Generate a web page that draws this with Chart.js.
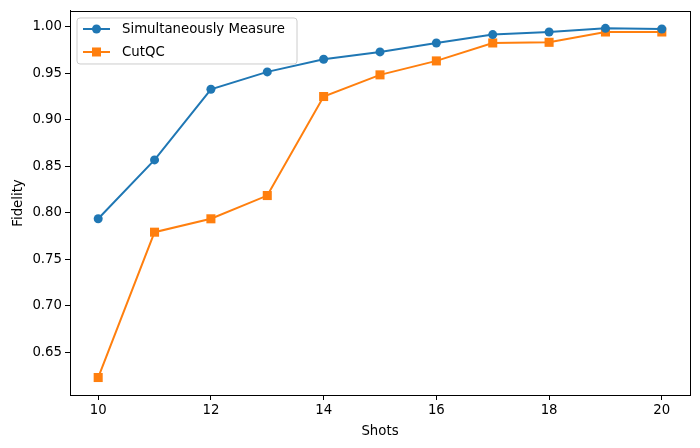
<!DOCTYPE html>
<html>
<head>
<meta charset="utf-8">
<script src="https://cdn.jsdelivr.net/npm/chart.js@4"></script>
<style>
  html, body { margin: 0; padding: 0; background: #fff; }
  #wrap { width: 700px; height: 448px; }
</style>
</head>
<body>
<div id="wrap"><canvas id="c" width="700" height="448"></canvas></div>
<script>
const shots = [10, 11, 12, 13, 14, 15, 16, 17, 18, 19, 20];
const simultaneous = [0.7937, 0.857, 0.933, 0.9517, 0.9653, 0.9732, 0.9828, 0.9918, 0.9946, 0.9985, 0.9978];
const cutqc = [0.623, 0.7793, 0.7937, 0.8187, 0.9252, 0.9485, 0.9635, 0.9828, 0.9835, 0.9946, 0.9946];
const xTicks = [10, 12, 14, 16, 18, 20];
const yTicks = [0.65, 0.70, 0.75, 0.80, 0.85, 0.90, 0.95, 1.00];
const seriesNames = ['Simultaneously Measure', 'CutQC'];

const FONT = 'DejaVu Sans';
const BLUE = '#1f77b4', ORANGE = '#ff7f0e';

const toPts = (ys) => shots.map((x, i) => ({ x: x, y: ys[i] }));

const framePlugin = {
  id: 'frame',
  afterDatasetsDraw(chart) {
    const { ctx, chartArea: a } = chart;
    ctx.save();
    ctx.strokeStyle = '#000';
    ctx.lineWidth = 1;
    ctx.strokeRect(Math.round(a.left) + 0.5, Math.round(a.top) + 0.5, Math.round(a.right - a.left), Math.round(a.bottom - a.top));
    ctx.restore();
  }
};

const legendPlugin = {
  id: 'mplLegend',
  afterDraw(chart) {
    const { ctx, chartArea: a } = chart;
    const x0 = a.left + 7, y0 = a.top + 7, w = 220, h = 46, r = 3;
    ctx.save();
    ctx.beginPath();
    ctx.moveTo(x0 + r, y0);
    ctx.arcTo(x0 + w, y0, x0 + w, y0 + h, r);
    ctx.arcTo(x0 + w, y0 + h, x0, y0 + h, r);
    ctx.arcTo(x0, y0 + h, x0, y0, r);
    ctx.arcTo(x0, y0, x0 + w, y0, r);
    ctx.closePath();
    ctx.fillStyle = 'rgba(255,255,255,0.8)';
    ctx.fill();
    ctx.strokeStyle = '#cccccc';
    ctx.lineWidth = 1;
    ctx.stroke();
    chart.data.datasets.forEach((ds, i) => {
      const cy = y0 + 11 + i * 23;
      ctx.strokeStyle = ds.borderColor;
      ctx.lineWidth = 2;
      ctx.beginPath();
      ctx.moveTo(x0 + 6, cy);
      ctx.lineTo(x0 + 33, cy);
      ctx.stroke();
      ctx.fillStyle = ds.borderColor;
      const mx = x0 + 19.5;
      if (ds.pointStyle === 'rect') {
        ctx.fillRect(mx - 4.5, cy - 4.5, 9, 9);
      } else {
        ctx.beginPath();
        ctx.arc(mx, cy, 4.5, 0, Math.PI * 2);
        ctx.fill();
      }
      ctx.fillStyle = '#000';
      ctx.font = '13.3px ' + FONT;
      ctx.textBaseline = 'middle';
      ctx.textAlign = 'left';
      ctx.fillText(ds.label, x0 + 45, cy + 1);
    });
    ctx.restore();
  }
};

new Chart(document.getElementById('c'), {
  type: 'line',
  data: {
    datasets: [
      {
        label: seriesNames[0],
        data: toPts(simultaneous),
        borderColor: BLUE, backgroundColor: BLUE,
        pointBackgroundColor: BLUE, pointBorderColor: BLUE,
        borderWidth: 2, pointRadius: 4.5, pointHoverRadius: 4.5, pointBorderWidth: 0,
        pointStyle: 'circle', tension: 0, fill: false
      },
      {
        label: seriesNames[1],
        data: toPts(cutqc),
        borderColor: ORANGE, backgroundColor: ORANGE,
        pointBackgroundColor: ORANGE, pointBorderColor: ORANGE,
        borderWidth: 2, pointRadius: 6.4, pointHoverRadius: 6.4, pointBorderWidth: 0,
        pointStyle: 'rect', tension: 0, fill: false
      }
    ]
  },
  options: {
    responsive: false,
    animation: false,
    devicePixelRatio: 1,
    layout: { padding: { left: 0, right: 10, top: 10, bottom: 0 } },
    plugins: { legend: { display: false }, tooltip: { enabled: false } },
    scales: {
      x: {
        type: 'linear',
        min: 9.5, max: 20.5,
        afterBuildTicks(s) { s.ticks = xTicks.map(v => ({ value: v })); },
        afterFit(s) { s.height = 53; },
        grid: { display: true, drawOnChartArea: false, drawTicks: true, tickLength: 5, color: '#000', tickWidth: 1 },
        border: { display: true, color: '#000', width: 1 },
        ticks: { color: '#000', font: { family: FONT, size: 13.3 }, padding: 3, maxRotation: 0, autoSkip: false },
        title: { display: true, text: 'Shots', color: '#000', font: { family: FONT, size: 13.3 }, padding: { top: 2, bottom: 8 } }
      },
      y: {
        type: 'linear',
        min: 0.6042, max: 1.0172,
        afterBuildTicks(s) { s.ticks = yTicks.map(v => ({ value: v })); },
        afterFit(s) { s.width = 70; },
        grid: { display: true, drawOnChartArea: false, drawTicks: true, tickLength: 5, color: '#000', tickWidth: 1 },
        border: { display: true, color: '#000', width: 1 },
        ticks: { color: '#000', font: { family: FONT, size: 13.3 }, padding: 3, autoSkip: false,
                 callback: (v) => Number(v).toFixed(2) },
        title: { display: true, text: 'Fidelity', color: '#000', font: { family: FONT, size: 13.3 }, padding: { top: 11, bottom: 4 } }
      }
    }
  },
  plugins: [framePlugin, legendPlugin]
});
</script>
</body>
</html>
